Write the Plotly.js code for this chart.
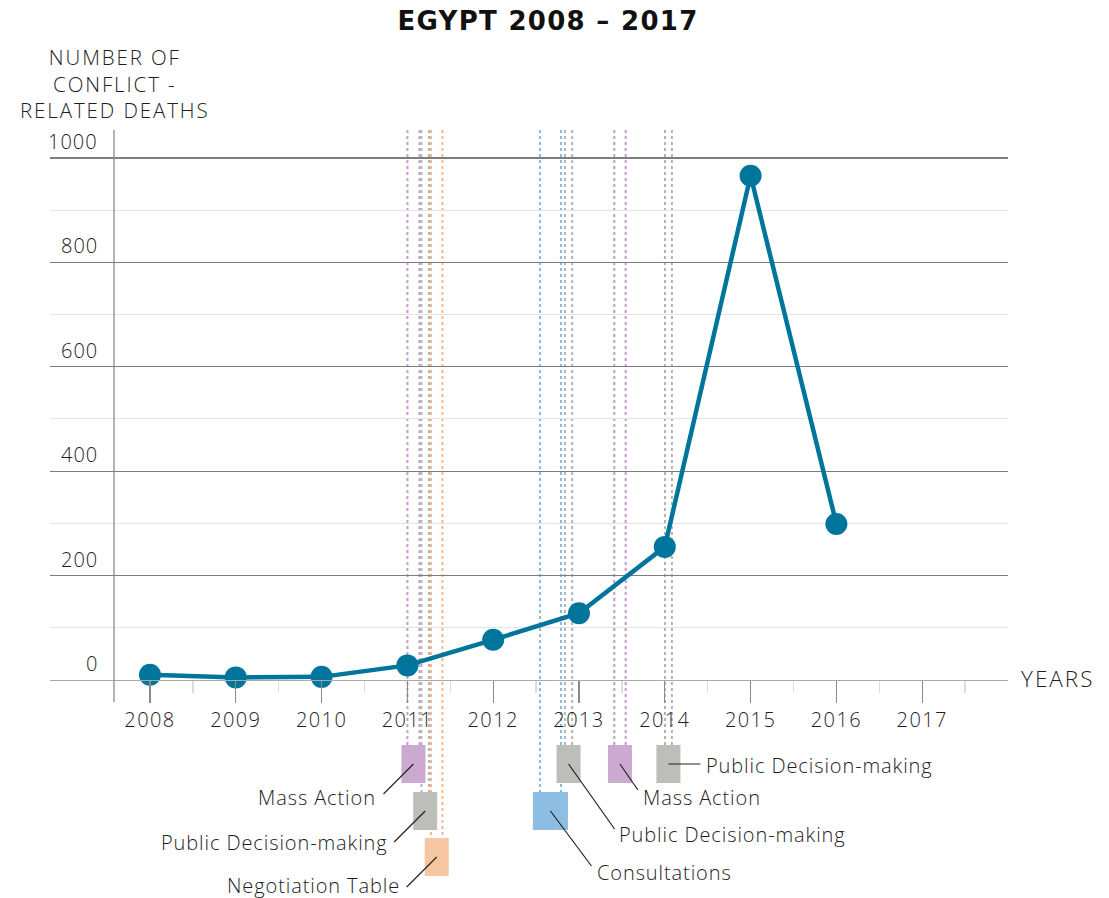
<!DOCTYPE html>
<html><head><meta charset="utf-8">
<script src="https://cdn.plot.ly/plotly-3.0.1.min.js"></script>
<style>
html,body{margin:0;padding:0;background:#fff}
#chart{width:1109px;height:898px}
.xtick text{letter-spacing:1.4px}
.gtitle{letter-spacing:1.3px}
</style>
</head><body><div id="chart"></div>
<script>
// ---- data ----
const years = [2008, 2009, 2010, 2011, 2012, 2013, 2014, 2015, 2016];
const deaths = [10, 5, 6, 28, 77, 128, 255, 966, 299];
const xTickVals = [2008, 2009, 2010, 2011, 2012, 2013, 2014, 2015, 2016, 2017];
const xTickText = ['2008', '2009', '2010', '2011', '2012', '2013', '2014', '2015', '2016', '2017'];
const yTickVals = [0, 200, 400, 600, 800, 1000];
const yTickText = ['0', '200', '400', '600', '800', '1000'];
const eventType = ['Mass Action', 'Public Decision-making', 'Negotiation Table', 'Consultations', 'Public Decision-making', 'Mass Action', 'Public Decision-making'];
const eventStart = [2011.001, 2011.164, 2011.275, 2012.545, 2012.836, 2013.411, 2014.002];
const eventEnd   = [2011.141, 2011.251, 2011.409, 2012.790, 2012.921, 2013.544, 2014.083];

// ---- styles / layout helpers ----
const lineColor = {'Mass Action': '#c49dca', 'Public Decision-making': '#b3b3b0', 'Negotiation Table': '#f2b88b', 'Consultations': '#86b9df'};
const boxColor  = {'Mass Action': '#cba9d1', 'Public Decision-making': '#bdbeb9', 'Negotiation Table': '#f6c6a3', 'Consultations': '#8dbde2'};
const boxRow    = [0, 1, 2, 1, 0, 0, 0];
const boxWidth  = [24, 24, 24, 35, 24, 24, 24];
const leader    = [[-30, 30], [-31, 31], [-30, 30], [41, 55], [46, 65], [18, 26], [32, 0]];
const textPos   = [[-37, 33, 'right'], [-37, 31, 'right'], [-37, 28, 'right'], [47, 61, 'left'], [50, 70, 'left'], [23, 33, 'left'], [38, 1, 'left']];
const rowTop = [745, 792, 838], boxH = 38;

const W = 1109, H = 898, M = {l: 50, r: 101, t: 130, b: 218};
const plotH = H - M.t - M.b, plotW = W - M.l - M.r;
const py = p => (H - M.b - p) / plotH;   // pixel y -> paper y
const px = p => (p - M.l) / plotW;       // pixel x -> paper x

const FONT = '"Open Sans", Lato, sans-serif';
const TXT = '#1e1e1e';
const WEIGHT = 300;
const spaced = (s, ls) => '<span style="letter-spacing:' + ls + 'px">' + s + '</span>';

const shapes = [];
const annotations = [];

// y axis vertical line
shapes.push({type: 'line', xref: 'paper', yref: 'paper', x0: px(114), x1: px(114), y0: 1, y1: py(702),
  line: {color: '#8a8a8a', width: 1.3}, layer: 'above'});

eventType.forEach((t, i) => {
  const c = (eventStart[i] + eventEnd[i]) / 2;
  const top = rowTop[boxRow[i]];
  const cy = top + boxH / 2;
  [eventStart[i], eventEnd[i]].forEach(d => {
    shapes.push({type: 'line', xref: 'x', yref: 'paper', x0: d, x1: d, y0: 1, y1: py(top),
      line: {color: lineColor[t], width: 2, dash: 'dot'}, layer: 'below'});
  });
  shapes.push({type: 'rect', xref: 'x', xsizemode: 'pixel', xanchor: c, x0: -boxWidth[i] / 2, x1: boxWidth[i] / 2,
    yref: 'paper', y0: py(top), y1: py(top + boxH), fillcolor: boxColor[t], line: {width: 0}, layer: 'above'});
  shapes.push({type: 'line', xref: 'x', xsizemode: 'pixel', xanchor: c, x0: 0, x1: leader[i][0],
    yref: 'paper', y0: py(cy), y1: py(cy + leader[i][1]), line: {color: '#222', width: 1.2}, layer: 'above'});
  annotations.push({text: spaced(t, 0.9), xref: 'x', x: c, xshift: textPos[i][0] + (textPos[i][2] === 'right' ? 1 : -1),
    xanchor: textPos[i][2], yref: 'paper', y: py(cy + textPos[i][1]), yanchor: 'middle', borderpad: 0,
    showarrow: false, font: {family: FONT, size: 20, color: TXT, weight: WEIGHT}});
});

// y tick labels (above gridlines, right aligned)
yTickVals.forEach((v, i) => {
  annotations.push({text: spaced(yTickText[i], 1), xref: 'paper', x: 0, xshift: 49, xanchor: 'right',
    yref: 'y', y: v, yanchor: 'bottom', yshift: 2, showarrow: false, borderpad: 0,
    font: {family: FONT, size: 20, color: TXT, weight: WEIGHT}});
});

// axis titles
annotations.push({text: spaced('NUMBER OF<br>CONFLICT -<br>RELATED DEATHS', 1.9), xref: 'paper', x: px(115), xanchor: 'center',
  yref: 'paper', y: py(83), yanchor: 'middle', align: 'center', showarrow: false, borderpad: 0,
  font: {family: FONT, size: 20.5, color: TXT, weight: WEIGHT}});
annotations.push({text: spaced('YEARS', 2), xref: 'paper', x: 1, xshift: 12, xanchor: 'left', yref: 'paper', y: py(678),
  yanchor: 'middle', showarrow: false, borderpad: 0, font: {family: FONT, size: 22.5, color: TXT, weight: WEIGHT}});

const trace = {
  x: years, y: deaths, type: 'scatter', mode: 'lines+markers', cliponaxis: false,
  line: {color: '#00759c', width: 4.5},
  marker: {color: '#00759c', size: 22},
  hoverinfo: 'x+y'
};

const layout = {
  width: W, height: H, margin: M,
  paper_bgcolor: '#fff', plot_bgcolor: 'rgba(0,0,0,0)',
  showlegend: false,
  title: {text: 'EGYPT 2008 – 2017', x: 548 / W, xanchor: 'center', xref: 'container',
    y: 1 - 21 / H, yanchor: 'middle', yref: 'container',
    font: {family: '"DejaVu Sans", sans-serif', size: 26, weight: 'bold', color: '#111'}},
  xaxis: {
    range: [2006.835, 2018.0], tickmode: 'array', tickvals: xTickVals, ticktext: xTickText,
    ticks: 'outside', ticklen: 22, tickwidth: 1.3, tickcolor: '#8a8a8a',
    showline: true, linecolor: '#aaa', linewidth: 1.3, showgrid: false, zeroline: false,
    tickfont: {family: FONT, size: 20, color: TXT, weight: WEIGHT},
    minor: {tickmode: 'array', tickvals: xTickVals.map(v => v + 0.5), ticks: 'outside', ticklen: 12,
      tickcolor: '#dcdcdc', tickwidth: 1.3, showgrid: false},
    fixedrange: true
  },
  yaxis: {
    range: [0, 1053.6], tickmode: 'array', tickvals: yTickVals, showticklabels: false, ticks: '',
    showgrid: true, gridcolor: '#7d7d7d', gridwidth: 1.3, zeroline: false, showline: false,
    minor: {tickmode: 'array', tickvals: [100, 300, 500, 700, 900], showgrid: true, gridcolor: '#e4e4e4', gridwidth: 1, ticks: ''},
    fixedrange: true
  },
  shapes: shapes,
  annotations: annotations
};

Plotly.newPlot('chart', [trace], layout, {displayModeBar: false, staticPlot: true});
</script>
</body></html>
